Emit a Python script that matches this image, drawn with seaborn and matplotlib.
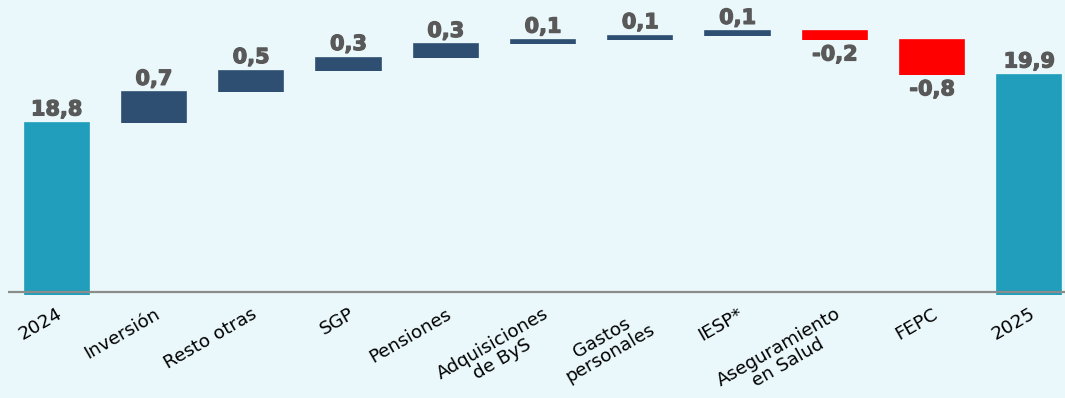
import numpy as np
import pandas as pd
import matplotlib
matplotlib.use("Agg")
import matplotlib.pyplot as plt
import matplotlib.patheffects as pe
import seaborn as sns

# Waterfall data (billions)
categories = ["2024", "Inversión", "Resto otras", "SGP", "Pensiones",
              "Adquisiciones\nde ByS", "Gastos\npersonales", "IESP*",
              "Aseguramiento\nen Salud", "FEPC", "2025"]
values = [18.8, 0.7, 0.5, 0.3, 0.3, 0.1, 0.1, 0.1, -0.2, -0.8, 19.9]
kinds = ["total", "up", "up", "up", "up", "up", "up", "up", "down", "down", "total"]

colors = {"total": "#209EBB", "up": "#2F4F72", "down": "#FF0000"}
bg = "#EAF8FB"
floor = 14.85

# running start / end of each bar
start, end = [], []
level = 0.0
for v, k in zip(values, kinds):
    if k == "total":
        start.append(floor)
        end.append(v)
        level = v
    else:
        start.append(level)
        level = level + v
        end.append(level)

df = pd.DataFrame({
    "cat": categories,
    "hi": np.maximum(start, end),
    "lo": np.where(np.array(kinds) == "total", 0, np.minimum(start, end)),
    "kind": kinds,
})

sns.set_style("white")
plt.rcParams["font.family"] = ["DejaVu Sans"]

fig = plt.figure(figsize=(10.65, 3.98), dpi=100, facecolor=bg)
ax = fig.add_axes([8 / 1065, 0.2588, 1 - 8 / 1065, 1 - 0.2588])
ax.set_facecolor(bg)

pal = {c: colors[k] for c, k in zip(categories, kinds)}
sns.barplot(data=df, x="cat", y="hi", hue="cat", palette=pal, width=0.66,
            legend=False, saturation=1, ax=ax, linewidth=1.2)
# thin edge in the bar's own colour so the tiny steps stay visible
for p in ax.patches:
    p.set_edgecolor(p.get_facecolor())
sns.barplot(data=df, x="cat", y="lo", hue="cat", palette={c: bg for c in categories},
            width=0.70, legend=False, saturation=1, ax=ax, linewidth=0)

ax.set_xlim(-0.5, 10.366)
ax.set_ylim(floor, 21.62)
ax.axhline(14.92, color="#8C8C8C", lw=1.6, zorder=5)

stroke = [pe.withStroke(linewidth=0.9, foreground="#595959")]
for i, (v, k) in enumerate(zip(values, kinds)):
    txt = f"{v:.1f}".replace(".", ",")
    if k == "down":
        ax.text(i, min(start[i], end[i]) - 0.1, txt, ha="center", va="top",
                fontsize=15, fontweight="bold", color="#595959", path_effects=stroke)
    else:
        ax.text(i, end[i] + 0.08, txt, ha="center", va="bottom",
                fontsize=15, fontweight="bold", color="#595959", path_effects=stroke)

ax.set_xlabel("")
ax.set_ylabel("")
ax.set_yticks([])
ax.tick_params(axis="x", length=0, pad=7)
ax.set_xticks(range(len(categories)))
ax.set_xticklabels(categories, rotation=30, ha="right", rotation_mode="anchor",
                   fontsize=13.2, color="black", multialignment="center",
                   linespacing=1.0)
for s in ax.spines.values():
    s.set_visible(False)

fig.savefig("out.png", dpi=100, facecolor=bg)
